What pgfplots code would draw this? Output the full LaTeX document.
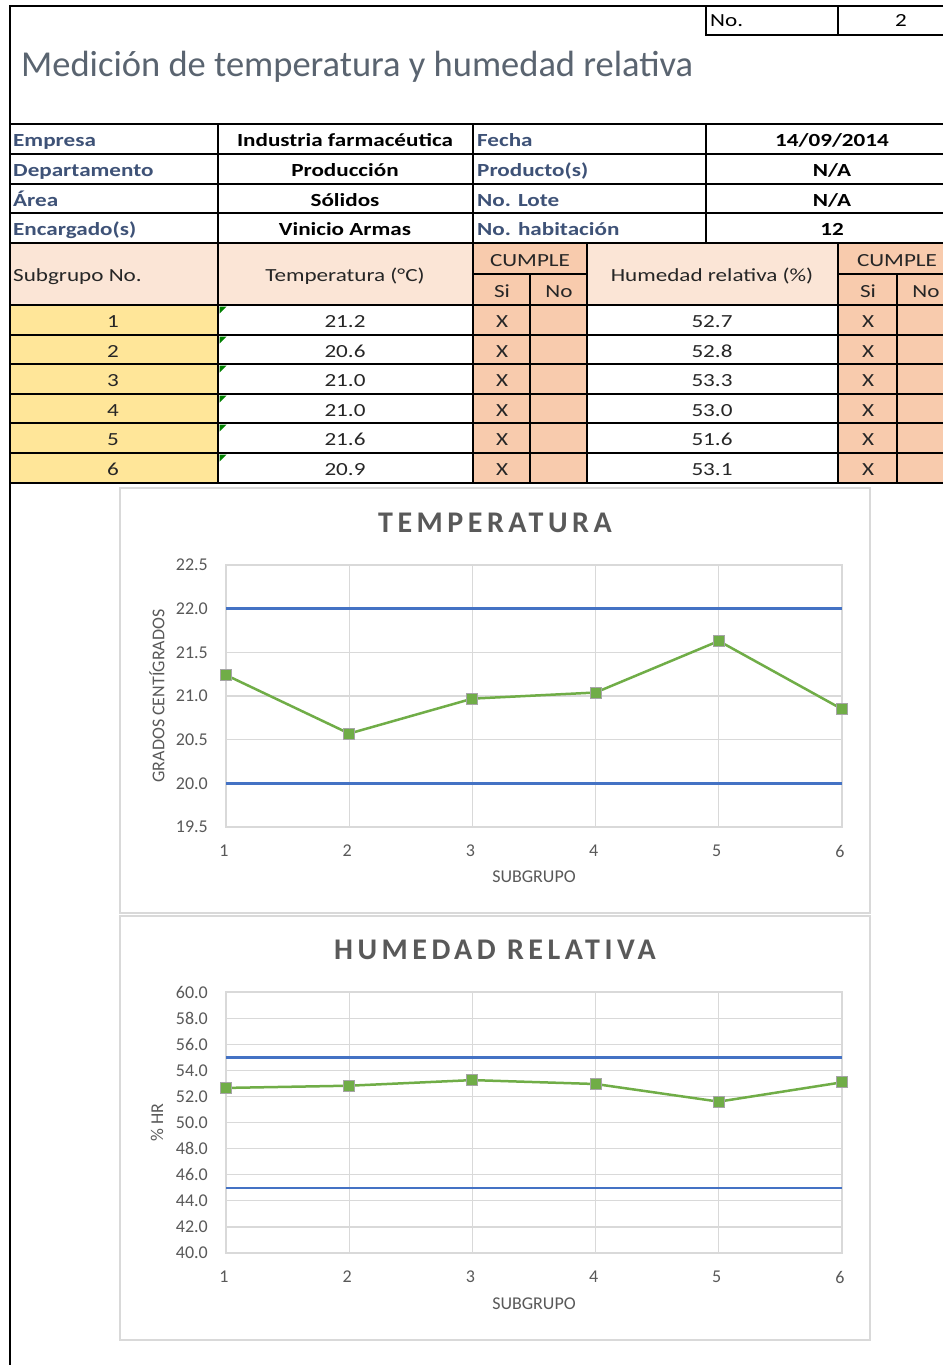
\documentclass[border=0pt]{standalone}
\usepackage{fontspec}
\setmainfont{Carlito}
\newfontfamily\chtitle[LetterSpace=15]{Carlito}
\newfontfamily\tabfont[FakeStretch=1.25]{Carlito}
\usepackage{pgfplots}
\usepackage{pgfplotstable}
\pgfplotsset{compat=1.18}
\definecolor{gridc}{HTML}{D9D9D9}
\definecolor{limc}{HTML}{4472C4}
\definecolor{datc}{HTML}{70AD47}
\definecolor{txtc}{HTML}{595959}
\definecolor{lblc}{HTML}{3E5277}
\definecolor{hdrlight}{HTML}{FBE5D6}
\definecolor{hdrdark}{HTML}{F8CBAD}
\definecolor{yel}{HTML}{FFE699}
\definecolor{mrkb}{HTML}{A5A5A5}
\definecolor{ttl}{HTML}{5A6470}
\definecolor{dtxt}{HTML}{262626}
\newcommand\tf{\tabfont\fontsize{18.5}{22}\selectfont}
\newcommand\axf{\fontsize{18}{21}\selectfont}
\newcommand\ttlf{\fontsize{36.5}{40}\selectfont}
\newcommand\chf{\chtitle\fontsize{30}{34}\selectfont}
\newcommand\lbl[3]{\node[anchor=base west, inner sep=0, font=\tf\bfseries, text=lblc] at (#1,-#2) {#3};}
\newcommand\ctr[3]{\node[anchor=base, inner sep=0, font=\tf\bfseries, text=black] at (#1,-#2) {#3};}

\pgfplotstableread{
x y
1 21.24
2 20.57
3 20.97
4 21.04
5 21.63
6 20.85
}\temptable
\pgfplotstableread{
x y
1 52.65
2 52.82
3 53.25
4 52.95
5 51.60
6 53.08
}\humtable

\pgfplotsset{
  chartstyle/.style={
    scale only axis, width=616pt,
    xmin=1, xmax=6, xtick={1,2,3,4,5,6},
    grid=major, grid style={gridc, line width=1.2pt},
    axis line style={gridc, line width=1.2pt},
    major tick length=0pt,
    /pgf/number format/assume math mode=true,
    tick label style={font=\axf, text=txtc, inner sep=0pt},
    yticklabel style={anchor=east, xshift=-18pt, /pgf/number format/.cd, fixed, fixed zerofill, precision=1},
    xticklabel style={anchor=north, yshift=-18pt, xshift=-2pt},
    label style={font=\axf, text=txtc},
  },
  datline/.style={datc, line width=2.5pt, mark=square*, mark size=5.5pt, mark options={fill=datc, draw=mrkb, line width=1pt}},
  limline/.style={limc, line width=2.5pt, no markers},
}

\begin{document}
\begin{tikzpicture}[x=1pt, y=1pt]
\path[use as bounding box] (0,0) rectangle (943,-1365);
\fill[white] (0,0) rectangle (943,-1365);

% fills
\fill[hdrlight] (10,-243) rectangle (473,-305);
\fill[hdrdark] (473,-243) rectangle (587,-305);
\fill[hdrlight] (587,-243) rectangle (838,-305);
\fill[hdrdark] (838,-243) rectangle (943,-305);
\fill[yel] (10,-305) rectangle (218,-483);
\fill[hdrdark] (473,-305) rectangle (587,-483);
\fill[hdrdark] (838,-305) rectangle (943,-483);
\foreach \yy in {305,335,364,394,423,453}{
  \fill[green!50!black] (219.5,-\yy-1.5) -- (226.5,-\yy-1.5) -- (219.5,-\yy-8.5) -- cycle;
}

% thin lines
\begin{scope}[line width=1.3pt, black]
\foreach \yy in {154,184,213,335,364,394,423,453} \draw (10,-\yy) -- (943,-\yy);
\foreach \xx in {218,473,706} \draw (\xx,-124) -- (\xx,-243);
\draw (706,-6) -- (706,-35) -- (943,-35);
\draw (838,-6) -- (838,-35);
\draw (473,-274) -- (587,-274);
\draw (838,-274) -- (943,-274);
\draw (530,-274) -- (530,-483);
\draw (897,-274) -- (897,-483);
\end{scope}
% thick lines
\begin{scope}[line width=2.8pt, black]
\draw (943,-6) -- (10,-6) -- (10,-1365);
\foreach \yy in {124,243,305,483} \draw (10,-\yy) -- (943,-\yy);
\foreach \xx in {218,473,587,838} \draw (\xx,-243) -- (\xx,-483);
\end{scope}

% header texts
\node[anchor=base west, inner sep=0, font=\tf, text=black] at (710,-27) {No.};
\node[anchor=base, inner sep=0, font=\tf, text=black] at (901,-27) {2};
\node[anchor=base west, inner sep=0, font=\ttlf, text=ttl] at (21,-76) {Medición de temperatura y humedad relativa};

\lbl{13}{146.5}{Empresa}
\lbl{13}{176.5}{Departamento}
\lbl{13}{206}{Área}
\lbl{13}{235.5}{Encargado(s)}
\lbl{477}{146.5}{Fecha}
\lbl{477}{176.5}{Producto(s)}
\lbl{477}{206}{No. Lote}
\lbl{477}{235.5}{No. habitación}
\ctr{345}{146.5}{Industria farmacéutica}
\ctr{345}{176.5}{Producción}
\ctr{345}{206}{Sólidos}
\ctr{345}{235.5}{Vinicio Armas}
\ctr{832}{146.5}{14/09/2014}
\ctr{832}{176.5}{N/A}
\ctr{832}{206}{N/A}
\ctr{832}{235.5}{12}

\begin{scope}[every node/.style={inner sep=0, font=\tf, text=dtxt}]
\node[anchor=base west] at (13,-281.5) {Subgrupo No.};
\node[anchor=base] at (345,-281.5) {Temperatura (°C)};
\node[anchor=base] at (712,-281.5) {Humedad relativa (\%)};
\node[anchor=base] at (530,-266.5) {CUMPLE};
\node[anchor=base] at (897,-266.5) {CUMPLE};
\node[anchor=base] at (502,-297.5) {Si};
\node[anchor=base] at (559,-297.5) {No};
\node[anchor=base] at (868,-297.5) {Si};
\node[anchor=base] at (926,-297.5) {No};
\foreach \n/\yb/\t/\h in {1/327.5/21.2/52.7, 2/357/20.6/52.8, 3/386.5/21.0/53.3, 4/416/21.0/53.0, 5/445.5/21.6/51.6, 6/475.5/20.9/53.1}{
  \node[anchor=base] at (113,-\yb) {\n};
  \node[anchor=base] at (345,-\yb) {\t};
  \node[anchor=base] at (502,-\yb) {X};
  \node[anchor=base] at (712,-\yb) {\h};
  \node[anchor=base] at (868,-\yb) {X};
}
\end{scope}

% chart boxes
\draw[gridc, line width=1.5pt] (120,-488) rectangle (870,-913);
\draw[gridc, line width=1.5pt] (120,-916) rectangle (870,-1340);

\node[font=\chf\bfseries, text=txtc] at (495,-523) {TEMPERATURA};
\node[font=\chf\bfseries, text=txtc] at (495,-950) {HUMEDAD RELATIVA};

\begin{axis}[chartstyle, at={(226pt,-827pt)}, anchor=south west, height=262pt,
  ymin=19.5, ymax=22.5, ytick={19.5,20,20.5,21,21.5,22,22.5},
  xlabel={SUBGRUPO}, ylabel={GRADOS CENTÍGRADOS},
  xlabel style={at={([yshift=-50pt]axis description cs:0.5,0)}, anchor=center},
  ylabel style={at={([xshift=-69pt]axis description cs:0,0.5)}, anchor=center, rotate=0},
]
\addplot[limline] coordinates {(1,22) (6,22)};
\addplot[limline] coordinates {(1,20) (6,20)};
\addplot[datline] table[x=x, y=y] {\temptable};
\end{axis}

\begin{axis}[chartstyle, at={(226pt,-1253pt)}, anchor=south west, height=261pt,
  ymin=40, ymax=60, ytick={40,42,44,46,48,50,52,54,56,58,60},
  xlabel={SUBGRUPO}, ylabel={\% HR},
  xlabel style={at={([yshift=-51pt]axis description cs:0.5,0)}, anchor=center},
  ylabel style={at={([xshift=-69pt]axis description cs:0,0.5)}, anchor=center, rotate=0},
]
\addplot[limline] coordinates {(1,55) (6,55)};
\addplot[limline] coordinates {(1,45) (6,45)};
\addplot[datline] table[x=x, y=y] {\humtable};
\end{axis}
\end{tikzpicture}
\end{document}
